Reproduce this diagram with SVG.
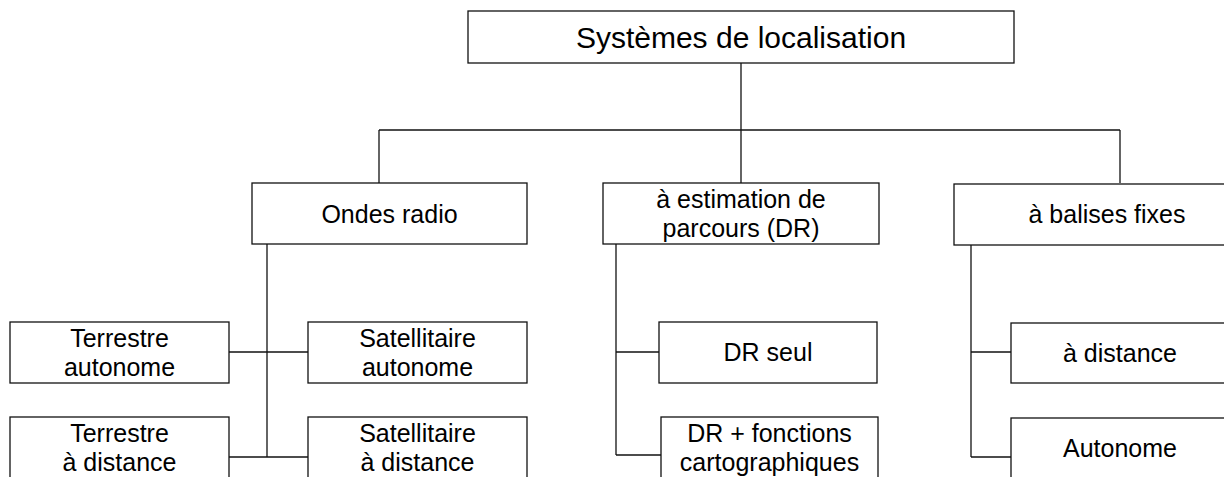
<svg xmlns="http://www.w3.org/2000/svg" width="1224" height="477" viewBox="0 0 1224 477">
<style>
rect{fill:#fff;stroke:#111;stroke-width:1.3}
line{stroke:#111;stroke-width:1.3}
text{font-family:"Liberation Sans",Arial,sans-serif;font-size:25px;fill:#000;text-anchor:middle}
.t{font-size:30px}
</style>
<rect x="0" y="0" width="1224" height="477" style="stroke:none"/>
<g id="connectors">
<line x1="741" y1="63" x2="741" y2="130"/>
<line x1="379" y1="130" x2="1120" y2="130"/>
<line x1="379" y1="130" x2="379" y2="183"/>
<line x1="741" y1="130" x2="741" y2="183"/>
<line x1="1120" y1="130" x2="1120" y2="183"/>
<line x1="267" y1="244" x2="267" y2="457"/>
<line x1="229" y1="352" x2="308" y2="352"/>
<line x1="229" y1="457" x2="308" y2="457"/>
<line x1="616" y1="244" x2="616" y2="455"/>
<line x1="616" y1="352" x2="659" y2="352"/>
<line x1="616" y1="455" x2="661" y2="455"/>
<line x1="971" y1="245" x2="971" y2="457"/>
<line x1="971" y1="352" x2="1011" y2="352"/>
<line x1="971" y1="457" x2="1011" y2="457"/>
</g>
<g id="root"><rect x="468" y="11" width="546" height="52"/><text class="t" x="741" y="47.5">Systèmes de localisation</text></g>
<g id="ondes"><rect x="252" y="183" width="275" height="61"/><text x="389.5" y="222.5">Ondes radio</text></g>
<g id="dr"><rect x="603" y="183" width="276" height="61"/><text x="741" y="208">à estimation de</text><text x="741" y="237">parcours (DR)</text></g>
<g id="balises"><rect x="954" y="184" width="308" height="61"/><text x="1107" y="223">à balises fixes</text></g>
<g id="terre-auto"><rect x="10" y="322" width="219" height="61"/><text x="119.5" y="347">Terrestre</text><text x="119.5" y="376">autonome</text></g>
<g id="sat-auto"><rect x="308" y="322" width="219" height="61"/><text x="417.5" y="347">Satellitaire</text><text x="417.5" y="376">autonome</text></g>
<g id="terre-dist"><rect x="10" y="417" width="219" height="61"/><text x="119.5" y="442">Terrestre</text><text x="119.5" y="471">à distance</text></g>
<g id="sat-dist"><rect x="308" y="417" width="219" height="61"/><text x="417.5" y="442">Satellitaire</text><text x="417.5" y="471">à distance</text></g>
<g id="dr-seul"><rect x="659" y="322" width="218" height="61"/><text x="768" y="361">DR seul</text></g>
<g id="dr-carto"><rect x="661" y="417" width="217" height="61"/><text x="769.5" y="442">DR + fonctions</text><text x="769.5" y="471">cartographiques</text></g>
<g id="bal-dist"><rect x="1011" y="323" width="218" height="60"/><text x="1120" y="361.5">à distance</text></g>
<g id="bal-auto"><rect x="1011" y="418" width="218" height="61"/><text x="1120" y="457">Autonome</text></g>
</svg>
